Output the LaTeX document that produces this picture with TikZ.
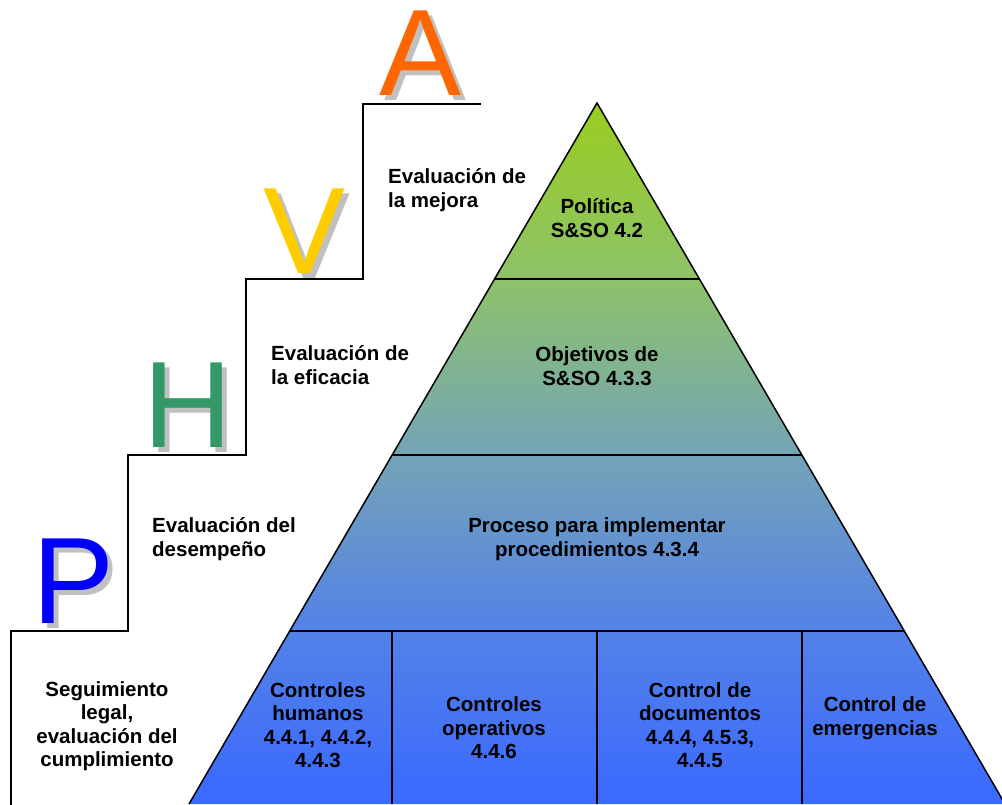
\documentclass[tikz,border=0pt]{standalone}
\usepackage{fontspec}
\setmainfont{Liberation Sans}
\usetikzlibrary{calc}
\definecolor{ptop}{RGB}{154,205,30}
\definecolor{pone}{RGB}{141,194,106}
\definecolor{ptwo}{RGB}{116,164,182}
\definecolor{pthree}{RGB}{83,129,232}
\definecolor{pbot}{RGB}{58,105,255}
\definecolor{pblue}{RGB}{0,0,255}
\definecolor{hgreen}{RGB}{51,153,102}
\definecolor{vyellow}{RGB}{255,204,0}
\definecolor{aorange}{RGB}{255,102,0}
\definecolor{shadowgray}{RGB}{192,192,192}
\pgfdeclareverticalshading{pyrshade}{100bp}{color(0bp)=(pbot); color(25bp)=(pbot); color(37.3bp)=(pthree); color(49.9bp)=(ptwo); color(62.4bp)=(pone); color(75bp)=(ptop); color(100bp)=(ptop)}
\tikzset{
  lbl/.style={font=\bfseries\fontsize{20.5}{23.5}\selectfont, align=center, inner sep=0pt},
  lbll/.style={font=\bfseries\fontsize{20.5}{23.5}\selectfont, align=left, inner sep=0pt, anchor=west},
  bigletter/.style={font=\fontsize{123}{123}\selectfont, anchor=base, inner sep=0pt, text height=88pt, text depth=0pt},
  shadowletter/.style={bigletter, text=shadowgray},
  divider/.style={line width=1.5pt, black},
  stair/.style={line width=1.8pt, black}
}
\begin{document}
\begin{tikzpicture}[x=1pt,y=-1pt]
\useasboundingbox (0,0) rectangle (1002,804);
% pyramid
\coordinate (apex) at (597,103);
\coordinate (bl) at (189,804);
\coordinate (br) at (1005,804);
\shade[shading=pyrshade] (apex) -- (bl) -- (br) -- cycle;
\coordinate (l1) at ($(apex)!0.2511!(bl)$);
\coordinate (r1) at ($(apex)!0.2511!(br)$);
\coordinate (l2) at ($(apex)!0.5021!(bl)$);
\coordinate (r2) at ($(apex)!0.5021!(br)$);
\coordinate (l3) at ($(apex)!0.7532!(bl)$);
\coordinate (r3) at ($(apex)!0.7532!(br)$);
\draw[divider] (l1) -- (r1);
\draw[divider] (l2) -- (r2);
\draw[divider] (l3) -- (r3);
\coordinate (d1t) at (392,631); \coordinate (d1b) at (392,804);
\coordinate (d2t) at (597,631); \coordinate (d2b) at (597,804);
\coordinate (d3t) at (802,631); \coordinate (d3b) at (802,804);
\draw[divider] (d1t) -- (d1b);
\draw[divider] (d2t) -- (d2b);
\draw[divider] (d3t) -- (d3b);
\draw[divider, line join=miter] (bl) -- (apex) -- (br);
% staircase
\coordinate (s0) at (11,806);
\coordinate (s1) at (11,631);
\coordinate (s2) at (128,631);
\coordinate (s3) at (128,455);
\coordinate (s4) at (246,455);
\coordinate (s5) at (246,279);
\coordinate (s6) at (363,279);
\coordinate (s7) at (363,104);
\coordinate (s8) at (481,104);
\draw[stair] (s0) -- (s1) -- (s2) -- (s3) -- (s4) -- (s5) -- (s6) -- (s7) -- (s8);
% letters
\node[shadowletter] (pS) at (79,628) {P};
\node[bigletter, text=pblue] (pL) at (74,623) {P};
\node[shadowletter] (hS) at (193,452) {H};
\node[bigletter, text=hgreen] (hL) at (188,447) {H};
\node[shadowletter] (vS) at (310,278) {V};
\node[bigletter, text=vyellow] (vL) at (305,273) {V};
\node[shadowletter] (aS) at (426,100) {A};
\node[bigletter, text=aorange] (aL) at (421,95) {A};
% stair labels
\node[lbll] (e1) at (388,190) {Evaluación de\\la mejora};
\node[lbll] (e2) at (271,365) {Evaluación de\\la eficacia};
\node[lbll] (e3) at (152,539) {Evaluación del\\desempeño};
\node[lbl] (e4) at (107,726) {Seguimiento\\legal,\\evaluación del\\cumplimiento};
% pyramid labels
\node[lbl] (t1) at (597,218) {Política\\S\&SO 4.2};
\node[lbl] (t2) at (597,366) {Objetivos de\\S\&SO 4.3.3};
\node[lbl] (t3) at (597,539) {Proceso para implementar\\procedimientos 4.3.4};
\node[lbl] (c1) at (318,725) {Controles\\humanos\\4.4.1, 4.4.2,\\4.4.3};
\node[lbl] (c2) at (494,728) {Controles\\operativos\\4.4.6};
\node[lbl] (c3) at (700,725) {Control de\\documentos\\4.4.4, 4.5.3,\\4.4.5};
\node[lbl] (c4) at (875,718) {Control de\\emergencias};
\end{tikzpicture}
\end{document}
